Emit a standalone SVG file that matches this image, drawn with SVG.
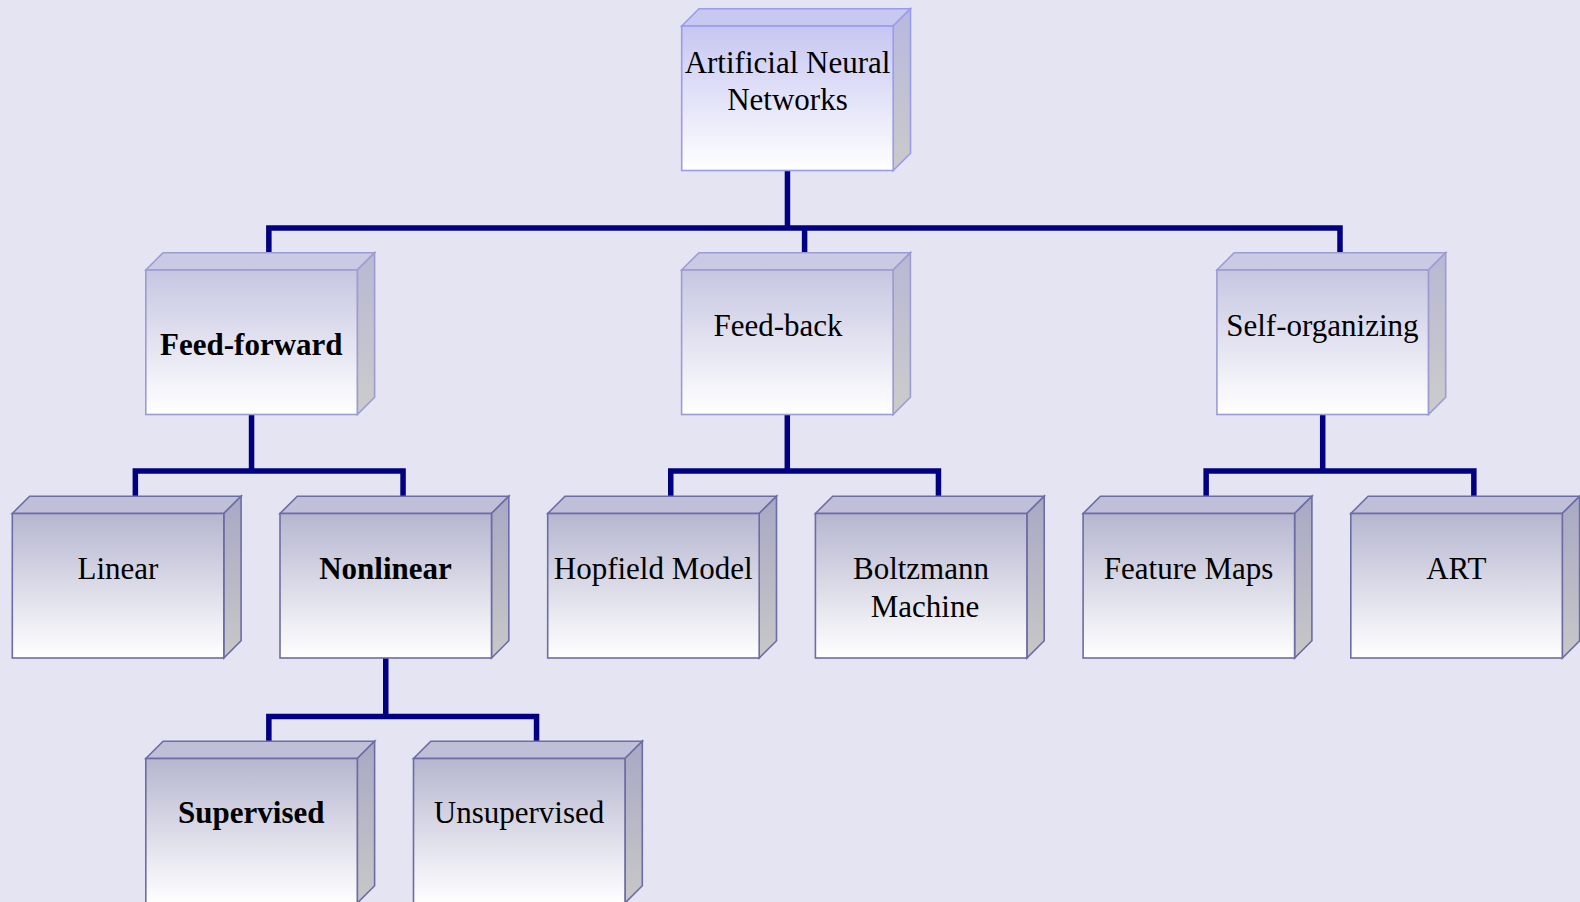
<svg xmlns="http://www.w3.org/2000/svg" width="1580" height="902" viewBox="0 0 1580 902">
<defs>
<linearGradient id="g1" x1="0" y1="0" x2="0" y2="1"><stop offset="0" stop-color="#c6c6f2"/><stop offset="1" stop-color="#ffffff"/></linearGradient>
<linearGradient id="g2" x1="0" y1="0" x2="0" y2="1"><stop offset="0" stop-color="#c6c6e2"/><stop offset="1" stop-color="#ffffff"/></linearGradient>
<linearGradient id="g3" x1="0" y1="0" x2="0" y2="1"><stop offset="0" stop-color="#b6b6d0"/><stop offset="1" stop-color="#ffffff"/></linearGradient>
<linearGradient id="s1" x1="0" y1="0" x2="0" y2="1"><stop offset="0" stop-color="#b8b8e0"/><stop offset="1" stop-color="#cacaca"/></linearGradient>
<linearGradient id="s2" x1="0" y1="0" x2="0" y2="1"><stop offset="0" stop-color="#b8b8d4"/><stop offset="1" stop-color="#cccccc"/></linearGradient>
<linearGradient id="s3" x1="0" y1="0" x2="0" y2="1"><stop offset="0" stop-color="#a8a8c4"/><stop offset="1" stop-color="#c8c8c8"/></linearGradient>
</defs>
<style>
text{font-family:"Liberation Serif","Times New Roman",serif;font-size:31px;fill:#000;text-anchor:middle}
.b{font-weight:bold}
.n1 polygon,.n1 rect{stroke:#9a9af0;stroke-width:1.6}
.n2 polygon,.n2 rect{stroke:#9c9cd2;stroke-width:1.6}
.n3 polygon,.n3 rect{stroke:#6c6ca6;stroke-width:1.6}
.n1 .t{fill:#c8c8f0}.n1 .s{fill:url(#s1)}.n1 rect{fill:url(#g1)}
.n2 .t{fill:#cacae4}.n2 .s{fill:url(#s2)}.n2 rect{fill:url(#g2)}
.n3 .t{fill:#bfbfd8}.n3 .s{fill:url(#s3)}.n3 rect{fill:url(#g3)}
.c{fill:none;stroke:#000080;stroke-width:5.5;stroke-linejoin:miter}
</style>
<rect width="1580" height="902" fill="#e4e4f2"/>
<g id="connectors">
<path class="c" d="M787.45 171 V228 M268.85 253 V228 H1340 V253 M804.6 228 V253"/>
<path class="c" d="M251.55 414.5 V471 M135.35 496 V471 H403.05 V496"/>
<path class="c" d="M787.3 414.5 V471 M670.75 496 V471 H938.45 V496"/>
<path class="c" d="M1322.7 414.5 V471 M1206.15 496 V471 H1473.85 V496"/>
<path class="c" d="M385.75 658 V716.5 M268.85 741.2 V716.5 H536.55 V741.2"/>
</g>
<g id="ann" class="n1" transform="translate(681.7,26)">
<polygon class="t" points="0,0 17.3,-17.3 228.8,-17.3 211.5,0"/>
<polygon class="s" points="211.5,0 228.8,-17.3 228.8,127.2 211.5,144.5"/>
<rect width="211.5" height="144.5"/>
<text x="105.8" y="46.7">Artificial Neural</text>
<text x="105.8" y="84">Networks</text>
</g>
<g id="feedforward" class="n2" transform="translate(145.8,270)">
<polygon class="t" points="0,0 17.3,-17.3 228.8,-17.3 211.5,0"/>
<polygon class="s" points="211.5,0 228.8,-17.3 228.8,127.2 211.5,144.5"/>
<rect width="211.5" height="144.5"/>
<text class="b" x="105.5" y="85">Feed-forward</text>
</g>
<g id="feedback" class="n2" transform="translate(681.6,270)">
<polygon class="t" points="0,0 17.3,-17.3 228.8,-17.3 211.5,0"/>
<polygon class="s" points="211.5,0 228.8,-17.3 228.8,127.2 211.5,144.5"/>
<rect width="211.5" height="144.5"/>
<text x="96.4" y="65.7">Feed-back</text>
</g>
<g id="selforganizing" class="n2" transform="translate(1216.9,270)">
<polygon class="t" points="0,0 17.3,-17.3 228.8,-17.3 211.5,0"/>
<polygon class="s" points="211.5,0 228.8,-17.3 228.8,127.2 211.5,144.5"/>
<rect width="211.5" height="144.5"/>
<text x="105.5" y="65.7">Self-organizing</text>
</g>
<g id="linear" class="n3" transform="translate(12.3,513.5)">
<polygon class="t" points="0,0 17.3,-17.3 228.8,-17.3 211.5,0"/>
<polygon class="s" points="211.5,0 228.8,-17.3 228.8,127.2 211.5,144.5"/>
<rect width="211.5" height="144.5"/>
<text x="105.6" y="65.5">Linear</text>
</g>
<g id="nonlinear" class="n3" transform="translate(280,513.5)">
<polygon class="t" points="0,0 17.3,-17.3 228.8,-17.3 211.5,0"/>
<polygon class="s" points="211.5,0 228.8,-17.3 228.8,127.2 211.5,144.5"/>
<rect width="211.5" height="144.5"/>
<text class="b" x="105.5" y="65.5">Nonlinear</text>
</g>
<g id="hopfield" class="n3" transform="translate(547.7,513.5)">
<polygon class="t" points="0,0 17.3,-17.3 228.8,-17.3 211.5,0"/>
<polygon class="s" points="211.5,0 228.8,-17.3 228.8,127.2 211.5,144.5"/>
<rect width="211.5" height="144.5"/>
<text x="105.5" y="65.5">Hopfield Model</text>
</g>
<g id="boltzmann" class="n3" transform="translate(815.4,513.5)">
<polygon class="t" points="0,0 17.3,-17.3 228.8,-17.3 211.5,0"/>
<polygon class="s" points="211.5,0 228.8,-17.3 228.8,127.2 211.5,144.5"/>
<rect width="211.5" height="144.5"/>
<text x="105.6" y="65.5">Boltzmann</text>
<text x="109.6" y="103.8">Machine</text>
</g>
<g id="featuremaps" class="n3" transform="translate(1083.1,513.5)">
<polygon class="t" points="0,0 17.3,-17.3 228.8,-17.3 211.5,0"/>
<polygon class="s" points="211.5,0 228.8,-17.3 228.8,127.2 211.5,144.5"/>
<rect width="211.5" height="144.5"/>
<text x="105.5" y="65.5">Feature Maps</text>
</g>
<g id="art" class="n3" transform="translate(1350.8,513.5)">
<polygon class="t" points="0,0 17.3,-17.3 228.8,-17.3 211.5,0"/>
<polygon class="s" points="211.5,0 228.8,-17.3 228.8,127.2 211.5,144.5"/>
<rect width="211.5" height="144.5"/>
<text x="105.5" y="65.5">ART</text>
</g>
<g id="supervised" class="n3" transform="translate(145.8,758.5)">
<polygon class="t" points="0,0 17.3,-17.3 228.8,-17.3 211.5,0"/>
<polygon class="s" points="211.5,0 228.8,-17.3 228.8,127.2 211.5,144.5"/>
<rect width="211.5" height="144.5"/>
<text class="b" x="105.5" y="64.5">Supervised</text>
</g>
<g id="unsupervised" class="n3" transform="translate(413.5,758.5)">
<polygon class="t" points="0,0 17.3,-17.3 228.8,-17.3 211.5,0"/>
<polygon class="s" points="211.5,0 228.8,-17.3 228.8,127.2 211.5,144.5"/>
<rect width="211.5" height="144.5"/>
<text x="105.5" y="64.5">Unsupervised</text>
</g>
</svg>
